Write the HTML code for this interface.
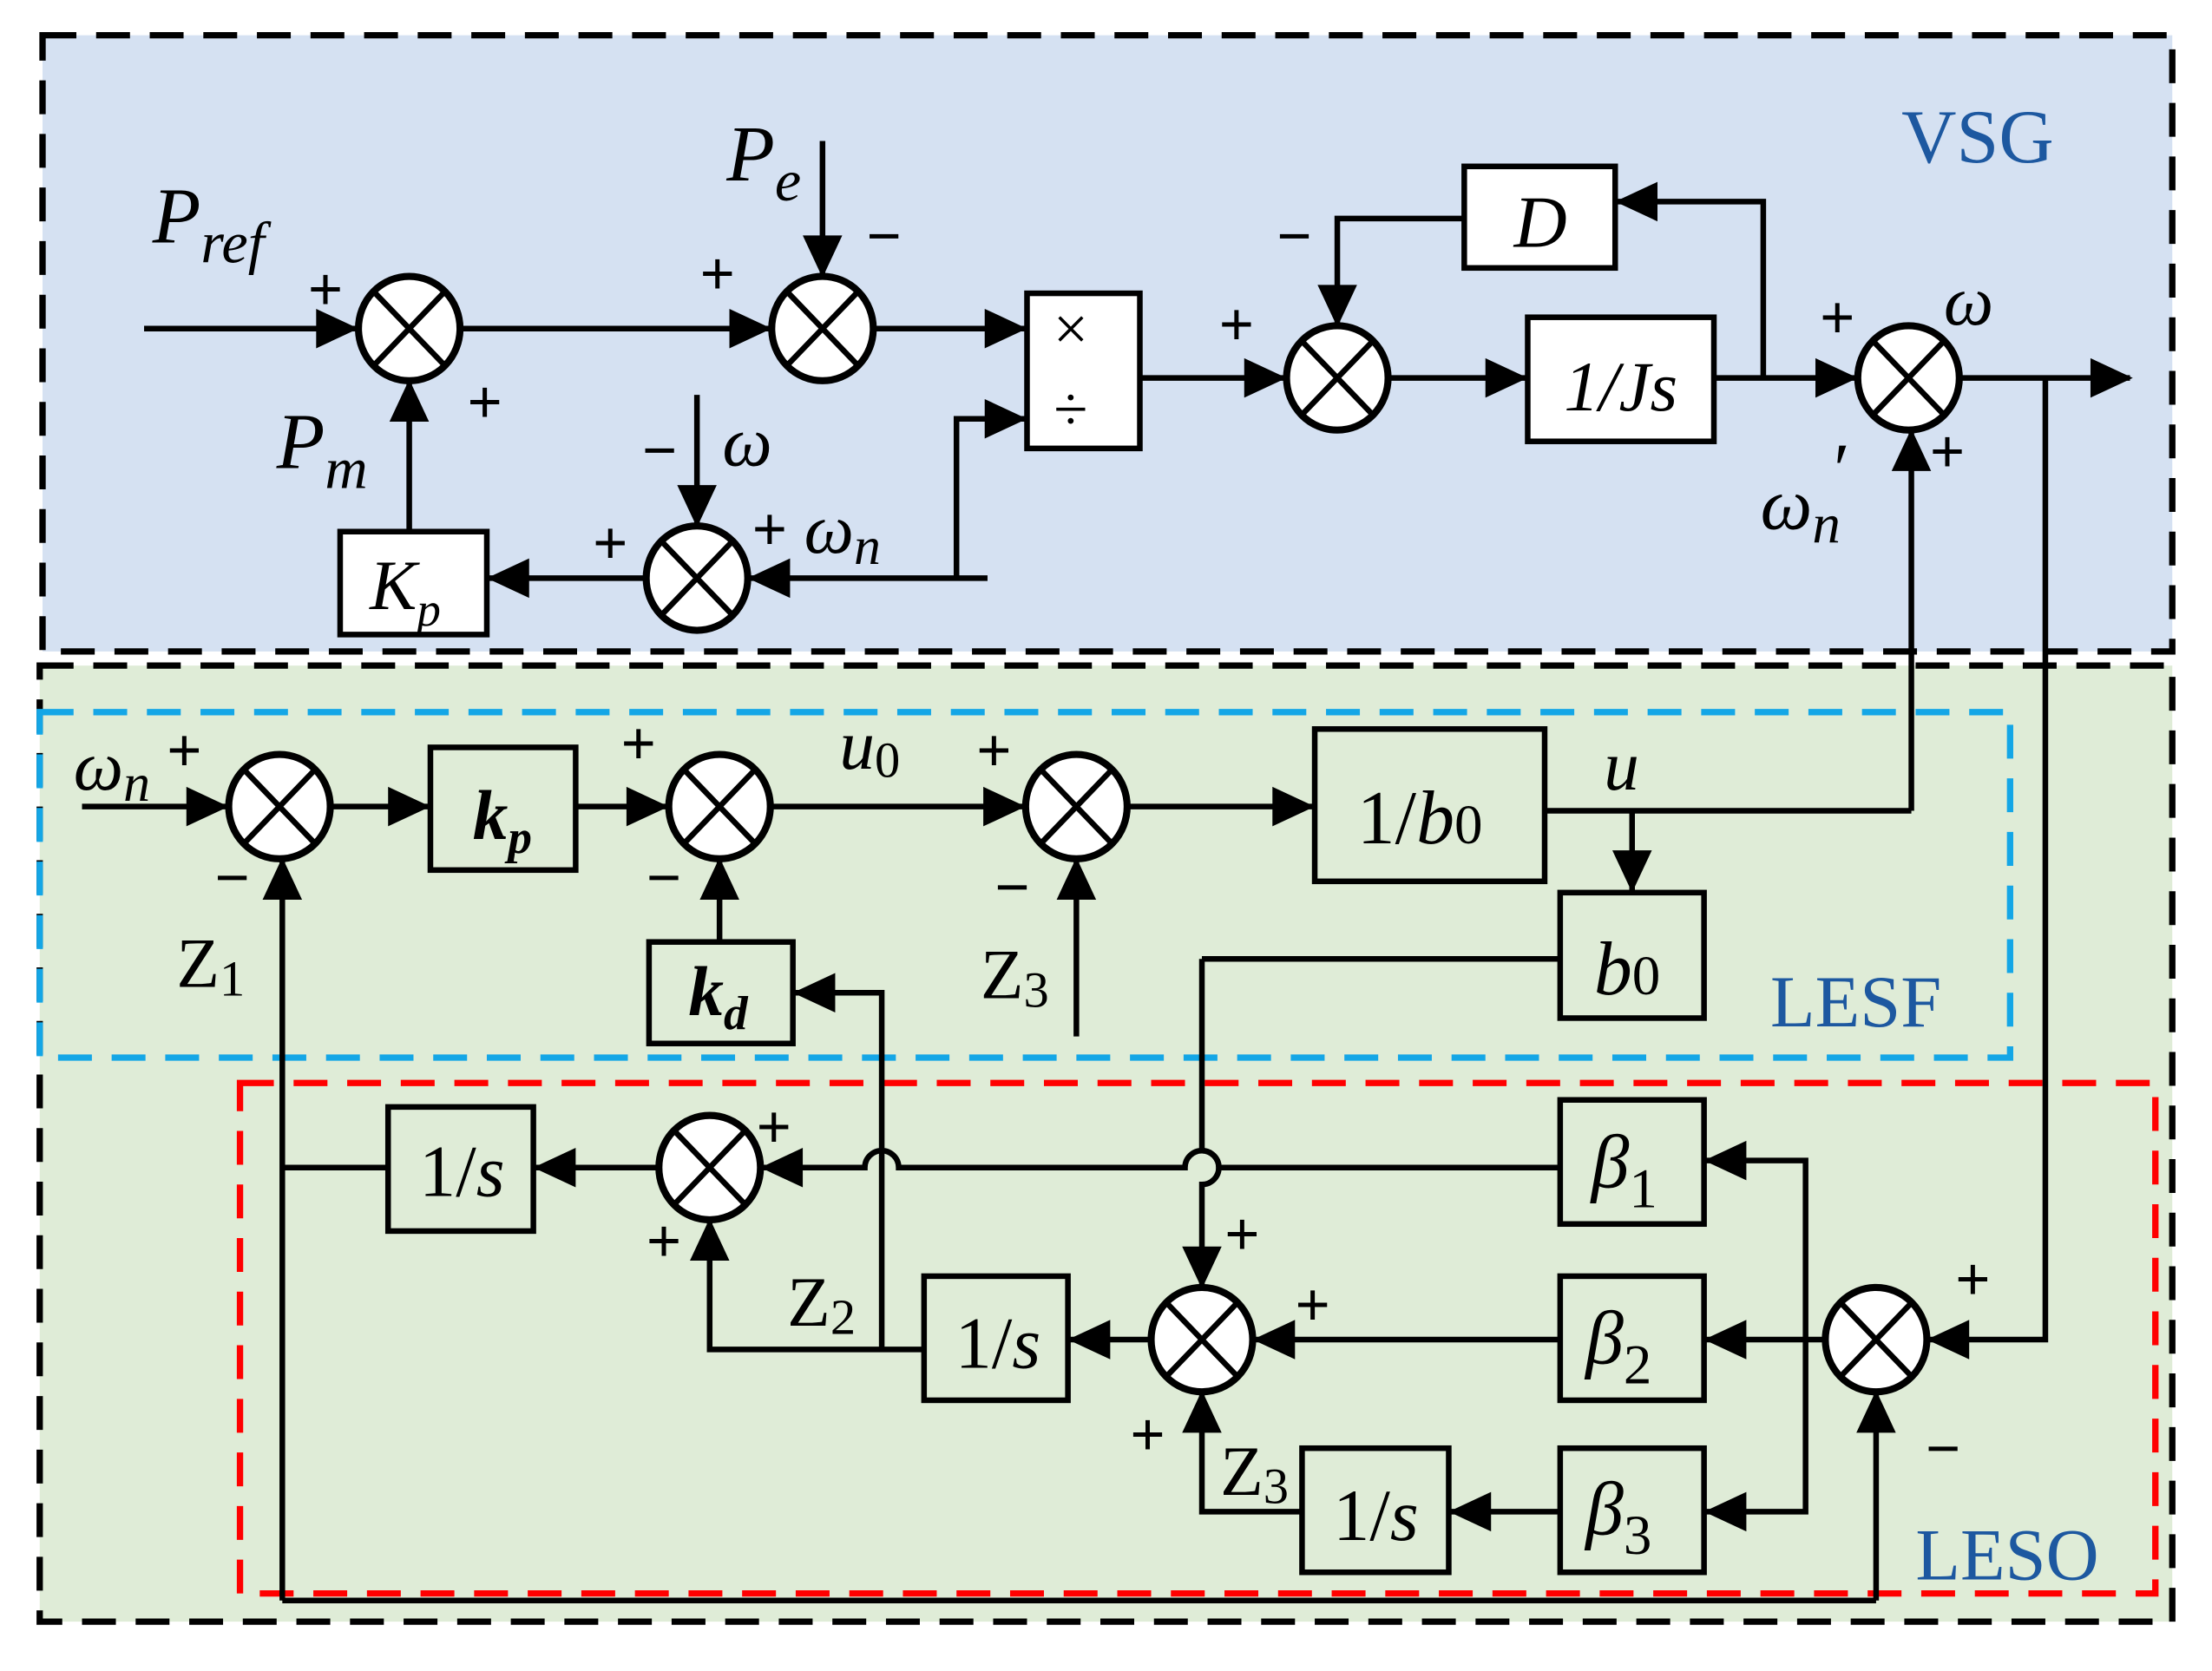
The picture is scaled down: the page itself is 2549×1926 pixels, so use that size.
<!DOCTYPE html>
<html><head><meta charset="utf-8"><style>
html,body{margin:0;padding:0;background:#fff}
svg{display:block}
svg text, svg tspan{font-family:"Liberation Serif",serif}
.i{font-style:italic}
</style></head><body>
<svg width="2549" height="1926" viewBox="0 0 1568 1185" xmlns="http://www.w3.org/2000/svg" font-family="Liberation Serif, serif">
<defs>
<g id="sum"><ellipse cx="0" cy="0" rx="36" ry="37" fill="#fff" stroke="#000" stroke-width="5"/><line x1="-25" y1="-26" x2="25" y2="26" stroke="#000" stroke-width="4"/><line x1="25" y1="-26" x2="-25" y2="26" stroke="#000" stroke-width="4"/></g>
</defs>
<rect x="30" y="25" width="1510" height="437" fill="#d5e1f2"/>
<rect x="28" y="472" width="1512" height="678" fill="#dfecd7"/>
<rect x="30" y="25" width="1510" height="437" fill="none" stroke="#000" stroke-width="4.5" stroke-dasharray="24,14"/>
<rect x="28" y="472" width="1512" height="678" fill="none" stroke="#000" stroke-width="4.5" stroke-dasharray="24,14"/>
<rect x="28" y="505" width="1397" height="245" fill="none" stroke="#14a6e6" stroke-width="4.5" stroke-dasharray="24,14"/>
<rect x="170" y="768" width="1358" height="362" fill="none" stroke="#f00" stroke-width="4.5" stroke-dasharray="24,14"/>

<g fill="none" stroke="#000" stroke-width="4">
<path d="M102 233H254M326 233H547M619 233H728M583 100V197M808 268H912M984 268H1083M1215 268H1317M1250 268V143H1145M1038 155H948V232M1389 268H1510M1450 268V950H1366M494 280V374M700 410H530M678 410V297H728M458 410H345M290 377V269M1355 575V304"/>
<path d="M58 572H162M234 572H305M408 572H474M546 572H727M799 572H932M1095 575H1355M1157 575V633M510 668V608M763 735V608M1106 680H852M200 1135V608M200 828H275M1330 1135V986M200 1135H1330"/>
<path d="M852 680V816a12 12 0 0 1 0 24V914"/>
<path d="M1106 828H864a12 12 0 0 0 -24 0H637a12 12 0 0 0 -24 0H539M467 828H378"/>
<path d="M625 957V704H562M503 864V957H655M816 950H757M1106 950H888M1294 950H1208M1280 950V823H1208M1280 950V1072H1208M1106 1072H1027M923 1072H852V986"/>
</g>
<g fill="#000">
<path d="M254 233l-30-14v28z"/><path d="M547 233l-30-14v28z"/><path d="M583 197l-14-30h28z"/>
<path d="M728 233l-30-14v28z"/><path d="M728 297l-30-14v28z"/><path d="M912 268l-30-14v28z"/>
<path d="M1083 268l-30-14v28z"/><path d="M1317 268l-30-14v28z"/><path d="M1145 143l30-14v28z"/>
<path d="M948 232l-14-30h28z"/><path d="M1512 268l-30-14v28z"/><path d="M494 374l-14-30h28z"/>
<path d="M530 410l30-14v28z"/><path d="M345 410l30-14v28z"/><path d="M290 269l-14 30h28z"/>
<path d="M1355 304l-14 30h28z"/>
<path d="M162 572l-30-14v28z"/><path d="M305 572l-30-14v28z"/><path d="M474 572l-30-14v28z"/>
<path d="M727 572l-30-14v28z"/><path d="M932 572l-30-14v28z"/><path d="M1157 633l-14-30h28z"/>
<path d="M510 608l-14 30h28z"/><path d="M763 608l-14 30h28z"/><path d="M200 608l-14 30h28z"/>
<path d="M562 704l30-14v28z"/><path d="M539 828l30-14v28z"/><path d="M378 828l30-14v28z"/>
<path d="M503 864l-14 30h28z"/><path d="M852 914l-14-30h28z"/><path d="M757 950l30-14v28z"/>
<path d="M888 950l30-14v28z"/><path d="M1366 950l30-14v28z"/><path d="M1208 950l30-14v28z"/>
<path d="M1208 823l30-14v28z"/><path d="M1208 1072l30-14v28z"/><path d="M1027 1072l30-14v28z"/>
<path d="M852 986l-14 30h28z"/><path d="M1330 986l-14 30h28z"/>
</g>
<use href="#sum" x="290" y="233"/><use href="#sum" x="583" y="233"/><use href="#sum" x="948" y="268"/>
<use href="#sum" x="1353" y="268"/><use href="#sum" x="494" y="410"/><use href="#sum" x="198" y="572"/>
<use href="#sum" x="510" y="572"/><use href="#sum" x="763" y="572"/><use href="#sum" x="503" y="828"/>
<use href="#sum" x="852" y="950"/><use href="#sum" x="1330" y="950"/>
<g fill="#fff" stroke="#000" stroke-width="4">
<rect x="728" y="208" width="80" height="110"/><rect x="1038" y="118" width="107" height="72"/>
<rect x="1083" y="225" width="132" height="88"/><rect x="241" y="377" width="104" height="73"/>
</g>
<g fill="none" stroke="#000" stroke-width="4">
<rect x="305" y="530" width="103" height="87"/><rect x="932" y="517" width="163" height="108"/>
<rect x="1106" y="633" width="102" height="89"/><rect x="460" y="668" width="102" height="72"/>
<rect x="275" y="785" width="103" height="88"/><rect x="1106" y="780" width="102" height="88"/>
<rect x="655" y="905" width="102" height="88"/><rect x="1106" y="905" width="102" height="88"/>
<rect x="923" y="1027" width="104" height="88"/><rect x="1106" y="1027" width="102" height="88"/>
</g>
<g font-size="46" font-family="Liberation Serif, serif">
<text x="759" y="248" font-size="44" text-anchor="middle">×</text>
<text x="759" y="305" font-size="44" text-anchor="middle">÷</text>
<text x="1092" y="175" class="i" font-size="52" text-anchor="middle">D</text>
<text x="1149" y="291" class="i" font-size="50" text-anchor="middle">1/Js</text>
<text x="262" y="432" class="i" font-size="50">K<tspan font-size="34" dy="12">p</tspan></text>
<text x="335" y="595" class="i" font-weight="bold" font-size="50">k<tspan font-size="34" dy="10">p</tspan></text>
<text x="488" y="720" class="i" font-weight="bold" font-size="50">k<tspan font-size="34" dy="10">d</tspan></text>
<text x="962" y="598" font-size="54">1/<tspan class="i">b</tspan><tspan font-size="40">0</tspan></text>
<text x="1130" y="705" class="i" font-size="54">b<tspan font-size="40" font-style="normal">0</tspan></text>
<text x="297" y="848" font-size="52">1/<tspan class="i">s</tspan></text>
<text x="677" y="970" font-size="52">1/<tspan class="i">s</tspan></text>
<text x="945" y="1092" font-size="52">1/<tspan class="i">s</tspan></text>
<text x="1128" y="842" class="i" font-size="54">β<tspan font-size="40" font-style="normal" dy="14">1</tspan></text>
<text x="1124" y="967" class="i" font-size="54">β<tspan font-size="40" font-style="normal" dy="14">2</tspan></text>
<text x="1124" y="1088" class="i" font-size="54">β<tspan font-size="40" font-style="normal" dy="14">3</tspan></text>
<text x="1348" y="115" font-size="54" fill="#1d58a0">VSG</text>
<text x="1255" y="728" font-size="52" fill="#1d58a0">LESF</text>
<text x="1358" y="1120" font-size="52" fill="#1d58a0">LESO</text>
<text x="108" y="172" class="i" font-size="56">P<tspan font-size="42" dy="14">ref</tspan></text>
<text x="515" y="128" class="i" font-size="56">P<tspan font-size="42" dy="14">e</tspan></text>
<text x="196" y="332" class="i" font-size="56">P<tspan font-size="42" dy="14">m</tspan></text>
<text x="512" y="330" class="i" font-size="50">ω</text>
<text x="570" y="392" class="i" font-size="50">ω<tspan font-size="38" dy="8">n</tspan></text>
<text x="1378" y="230" class="i" font-size="50">ω</text>
<text x="1248" y="375" class="i" font-size="52">ω<tspan font-size="40" dy="10">n</tspan></text>
<text x="1300" y="350" font-size="52">′</text>
<text x="52" y="560" class="i" font-size="50">ω<tspan font-size="38" dy="8">n</tspan></text>
<text x="595" y="545" class="i" font-size="50">u<tspan font-size="36" font-style="normal" dy="6">0</tspan></text>
<text x="1137" y="560" class="i" font-size="50">u</text>
<text x="125" y="700" font-size="50">Z<tspan font-size="36" dy="6">1</tspan></text>
<text x="695" y="708" font-size="50">Z<tspan font-size="36" dy="6">3</tspan></text>
<text x="558" y="940" font-size="50">Z<tspan font-size="36" dy="6">2</tspan></text>
<text x="865" y="1060" font-size="50">Z<tspan font-size="36" dy="6">3</tspan></text>
</g>
<g font-size="44" font-weight="bold" font-family="Liberation Sans, sans-serif">
<text x="218" y="220">+</text><text x="331" y="300">+</text><text x="496" y="209">+</text><text x="614" y="182">−</text>
<text x="864" y="245">+</text><text x="905" y="182">−</text><text x="1290" y="240">+</text><text x="1368" y="335">+</text>
<text x="455" y="334">−</text><text x="420" y="400">+</text><text x="533" y="390">+</text>
<text x="118" y="547">+</text><text x="152" y="637">−</text><text x="440" y="542">+</text><text x="458" y="637">−</text>
<text x="692" y="547">+</text><text x="705" y="644">−</text><text x="536" y="814">+</text><text x="458" y="895">+</text>
<text x="868" y="890">+</text><text x="918" y="940">+</text><text x="801" y="1032">+</text>
<text x="1386" y="922">+</text><text x="1365" y="1042">−</text>
</g>
</svg>
</body></html>
